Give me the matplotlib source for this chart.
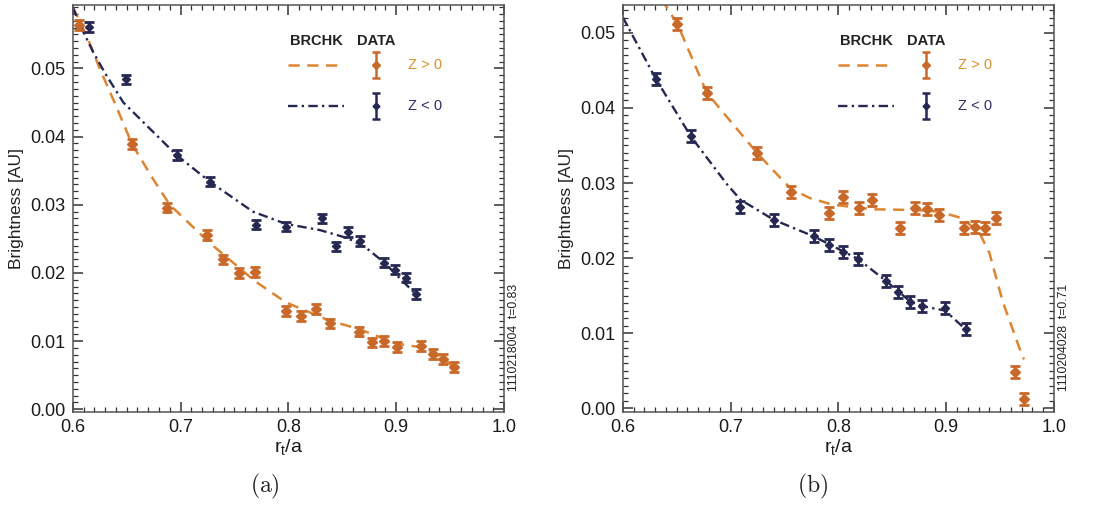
import numpy as np
import matplotlib
matplotlib.use('Agg')
import matplotlib.pyplot as plt
from matplotlib.ticker import MultipleLocator

plt.rcParams['font.family'] = ['Liberation Sans', 'DejaVu Sans']
plt.rcParams['mathtext.fontset'] = 'cm'

ORANGE = '#c8692a'
ORANGE_LINE = '#dd8533'
NAVY = '#262852'

# ---- panel (a) : shot 1110218004, t=0.83
a_pos_x = [0.606, 0.6546, 0.687, 0.7246, 0.7395, 0.7543, 0.769, 0.7975, 0.812, 0.826,
           0.839, 0.8654, 0.8774, 0.889, 0.9006, 0.923, 0.934, 0.943, 0.9533]
a_pos_y = [0.0564, 0.0389, 0.0296, 0.0256, 0.0220, 0.0200, 0.0201, 0.0144, 0.0137, 0.0147,
           0.0126, 0.0114, 0.0098, 0.0100, 0.0091, 0.0093, 0.0081, 0.0074, 0.0062]
a_neg_x = [0.6154, 0.649, 0.6963, 0.727, 0.7697, 0.7975, 0.8315, 0.8438, 0.8552, 0.866,
           0.889, 0.899, 0.9086, 0.918]
a_neg_y = [0.0561, 0.0484, 0.0373, 0.0334, 0.0271, 0.0268, 0.0280, 0.0239, 0.0260, 0.0247,
           0.0215, 0.0205, 0.0193, 0.0169]
a_pos_err = 0.0007
a_neg_err = 0.0007
a_mod_pos_x = [0.600, 0.607, 0.615, 0.625, 0.641, 0.655, 0.676, 0.690, 0.727, 0.769, 0.7975,
               0.838, 0.865, 0.9006, 0.923, 0.943, 0.953]
a_mod_pos_y = [0.0590, 0.0568, 0.0540, 0.0500, 0.0442, 0.0389, 0.0334, 0.0300, 0.0244, 0.0188,
               0.0157, 0.0130, 0.0118, 0.0096, 0.0091, 0.0076, 0.0062]
a_mod_neg_x = [0.600, 0.610, 0.619, 0.630, 0.647, 0.6963, 0.727, 0.767, 0.7975, 0.829, 0.855,
               0.872, 0.889, 0.918]
a_mod_neg_y = [0.0590, 0.0553, 0.0524, 0.0493, 0.0450, 0.0373, 0.0334, 0.0290, 0.0272, 0.0263,
               0.0251, 0.0237, 0.0215, 0.0169]

# ---- panel (b) : shot 1110204028, t=0.71
b_pos_x = [0.650, 0.6783, 0.7246, 0.7565, 0.7913, 0.8043, 0.819, 0.8315, 0.8568, 0.8706,
           0.882, 0.8929, 0.9163, 0.9265, 0.9364, 0.9463, 0.9639, 0.9725]
b_pos_y = [0.0512, 0.0420, 0.0340, 0.0288, 0.0260, 0.0282, 0.0267, 0.0277, 0.0240, 0.0267,
           0.0265, 0.0258, 0.0240, 0.0242, 0.0240, 0.0254, 0.0048, 0.0012]
b_neg_x = [0.6306, 0.6632, 0.7092, 0.740, 0.7771, 0.7913, 0.8043, 0.818, 0.8438, 0.8552,
           0.8667, 0.8778, 0.8993, 0.918]
b_neg_y = [0.0439, 0.0362, 0.0268, 0.0251, 0.0229, 0.0218, 0.0208, 0.0199, 0.0169, 0.0155,
           0.0142, 0.0136, 0.0133, 0.0105]
b_pos_err = 0.0008
b_neg_err = 0.0008
b_mod_pos_x = [0.636, 0.651, 0.678, 0.7246, 0.7487, 0.7565, 0.7734, 0.795, 0.832, 0.872,
               0.893, 0.915, 0.931, 0.940, 0.9524, 0.9679, 0.972]
b_mod_pos_y = [0.0545, 0.0511, 0.0420, 0.0340, 0.0303, 0.0292, 0.0280, 0.0271, 0.0265, 0.0264,
               0.0262, 0.0253, 0.0233, 0.0207, 0.0142, 0.0080, 0.0065]
b_mod_neg_x = [0.600, 0.6306, 0.6632, 0.6963, 0.709, 0.740, 0.777, 0.818, 0.8438, 0.8667,
               0.878, 0.899, 0.918]
b_mod_neg_y = [0.0521, 0.0439, 0.0362, 0.0299, 0.0278, 0.0251, 0.0229, 0.0199, 0.0170, 0.0142,
               0.0136, 0.0130, 0.0105]

fig = plt.figure(figsize=(11.12, 5.08), dpi=100)
ax_a = fig.add_axes([0.0654, 0.189, 0.3879, 0.801])
ax_b = fig.add_axes([0.5600, 0.189, 0.3879, 0.801])


def draw_panel(ax, mpx, mpy, mnx, mny, px, py, pe, nx, ny, ne, ylim, tag, shot, label):
    ax.plot(mpx, mpy, color=ORANGE_LINE, lw=1.8, dashes=(4.5, 3), zorder=2)
    ax.plot(mnx, mny, color=NAVY, lw=1.7, dashes=(4, 1.8, 1, 1.8), zorder=2)
    ax.errorbar(px, py, yerr=pe, fmt='D', ms=5.5, color=ORANGE, ecolor=ORANGE,
                elinewidth=2, capsize=3.4, capthick=2, zorder=3)
    ax.errorbar(nx, ny, yerr=ne, fmt='D', ms=4.2, color=NAVY, ecolor=NAVY,
                elinewidth=2, capsize=3.4, capthick=2, zorder=3)

    ax.set_xlim(0.6, 1.0)
    ax.set_ylim(*ylim)
    ax.xaxis.set_major_locator(MultipleLocator(0.1))
    ax.xaxis.set_minor_locator(MultipleLocator(0.01))
    ax.yaxis.set_major_locator(MultipleLocator(0.01))
    ax.yaxis.set_minor_locator(MultipleLocator(0.001))
    ax.xaxis.set_major_formatter(plt.FormatStrFormatter('%.1f'))
    ax.yaxis.set_major_formatter(plt.FormatStrFormatter('%.2f'))
    ax.tick_params(which='both', direction='in', top=True, right=True, colors='#333333',
                   labelcolor='#1a1a1a', labelsize=13)
    ax.tick_params(which='major', length=7, width=1.1, pad=5)
    ax.tick_params(which='minor', length=3.5, width=0.9)
    for s in ax.spines.values():
        s.set_color('#555555')
        s.set_linewidth(1.1)
    ax.set_ylabel('Brightness [AU]', fontsize=12.5, color='#222222', labelpad=5)
    ax.set_xlabel(r'$\mathregular{r_t/a}$', fontsize=14, color='#1a1a1a', labelpad=1)

    # legend block
    tr = ax.transAxes
    ax.text(0.503, 0.912, 'BRCHK', transform=tr, fontsize=10.5, fontweight='bold',
            color='#222222', va='center')
    ax.text(0.660, 0.912, 'DATA', transform=tr, fontsize=10.5, fontweight='bold',
            color='#222222', va='center')
    ax.plot([0.500, 0.628], [0.853, 0.853], transform=tr, color=ORANGE_LINE, lw=1.8,
            dashes=(4.5, 3))
    ax.plot([0.500, 0.628], [0.751, 0.751], transform=tr, color=NAVY, lw=1.7,
            dashes=(4, 1.8, 1, 1.8))
    ax.errorbar([0.702], [0.853], yerr=[0.032], fmt='D', ms=4.5, color=ORANGE,
                elinewidth=1.8, capsize=3.2, capthick=1.8, transform=tr)
    ax.errorbar([0.702], [0.751], yerr=[0.032], fmt='D', ms=3.5, color=NAVY,
                elinewidth=1.8, capsize=3.2, capthick=1.8, transform=tr)
    ax.text(0.777, 0.853, 'Z > 0', transform=tr, fontsize=10.5, color='#d9902e', va='center')
    ax.text(0.777, 0.751, 'Z < 0', transform=tr, fontsize=10.5, color='#2f2e66', va='center')

    ax.text(1.024, 0.183, shot, transform=tr, rotation=90, fontsize=8.8, color='#222222',
            va='center', ha='center')

    fig.text(tag, 0.042, label, fontsize=17, ha='center', va='center', color='#222222')


draw_panel(ax_a, a_mod_pos_x, a_mod_pos_y, a_mod_neg_x, a_mod_neg_y,
           a_pos_x, a_pos_y, a_pos_err, a_neg_x, a_neg_y, a_neg_err,
           (-0.0004, 0.0593), 0.238, '1110218004  t=0.83', r'$\mathrm{(a)}$')
draw_panel(ax_b, b_mod_pos_x, b_mod_pos_y, b_mod_neg_x, b_mod_neg_y,
           b_pos_x, b_pos_y, b_pos_err, b_neg_x, b_neg_y, b_neg_err,
           (-0.0005, 0.0537), 0.731, '1110204028  t=0.71', r'$\mathrm{(b)}$')

fig.savefig('out.png', dpi=100)
